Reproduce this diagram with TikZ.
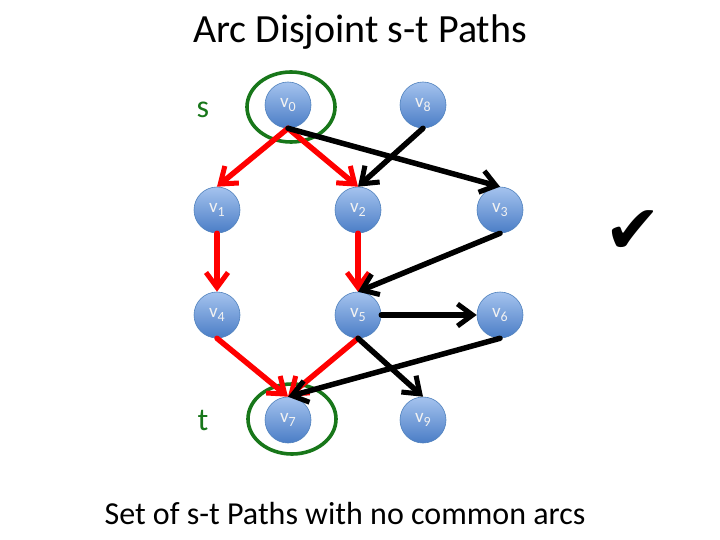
\documentclass[tikz,border=0pt]{standalone}
\usepackage{fontspec}
\setmainfont{Carlito}
\newfontfamily\tickfont{DejaVu Sans}
\usetikzlibrary{arrows.meta, shapes.geometric}

\definecolor{nodetop}{HTML}{A5C3EE}
\definecolor{nodebot}{HTML}{4A7DC6}
\definecolor{nodeline}{HTML}{4F81BD}
\definecolor{ringgreen}{HTML}{18771A}
\definecolor{vtext}{HTML}{F2F2F2}

\newcommand{\vlab}[1]{v\raisebox{-4pt}{\fontsize{14}{14}\selectfont #1}}

\begin{document}
\begin{tikzpicture}[
  x=1pt, y=-1pt,
  vertex/.style={
    circle, minimum size=46pt, inner sep=0pt,
    draw=nodeline, line width=0.6pt,
    top color=nodetop, bottom color=nodebot,
    text=vtext, font=\fontsize{19}{19}\selectfont
  },
  ring/.style={
    ellipse, draw=ringgreen, line width=3.6pt,
    minimum width=88pt, minimum height=70pt, inner sep=0pt
  },
  redarc/.style={
    -{Straight Barb[length=15pt, width=22pt, line width=5pt]},
    line width=5.5pt, draw=red, line cap=round
  },
  blackarc/.style={
    -{Straight Barb[length=15pt, width=22pt, line width=5pt]},
    line width=5.5pt, draw=black, line cap=round
  },
  endlbl/.style={text=ringgreen, font=\fontsize{32}{32}\selectfont}
]
  \fill[white] (0,0) rectangle (720,540);
  \useasboundingbox (0,0) rectangle (720,540);

  \node[font=\fontsize{40}{40}\selectfont] (title) at (360,32) {Arc Disjoint s-t Paths};

  \node[vertex] (v0) at (288,105) {\vlab{0}};
  \node[vertex] (v8) at (423,105) {\vlab{8}};
  \node[vertex] (v1) at (217,210) {\vlab{1}};
  \node[vertex] (v2) at (358,210) {\vlab{2}};
  \node[vertex] (v3) at (500,210) {\vlab{3}};
  \node[vertex] (v4) at (217,315) {\vlab{4}};
  \node[vertex] (v5) at (358,315) {\vlab{5}};
  \node[vertex] (v6) at (500,315) {\vlab{6}};
  \node[vertex] (v7) at (288,420) {\vlab{7}};
  \node[vertex] (v9) at (423,420) {\vlab{9}};

  \node[ring] (ring0) at (291,107) {};
  \node[ring] (ring7) at (292,419) {};

  \node[endlbl] (s) at (203,110) {s};
  \node[endlbl] (t) at (203,420) {t};

  \draw[redarc] (v0.south) -- (v1.north);
  \draw[redarc] (v0.south) -- (v2.north);
  \draw[redarc] (v1.south) -- (v4.north);
  \draw[redarc] (v2.south) -- (v5.north);
  \draw[redarc] (v4.south) -- (v7.north);
  \draw[redarc] (v5.south) -- (v7.north);

  \draw[blackarc] (v0.south) -- (v3.north);
  \draw[blackarc] (v8.south) -- (v2.north);
  \draw[blackarc] (v3.south) -- (v5.north);
  \draw[blackarc] (v5.east) -- (v6.west);
  \draw[blackarc] (v6.south) -- (v7.north);
  \draw[blackarc] (v5.south) -- (v9.north);

  \node[font=\tickfont\fontsize{68}{68}\selectfont] (tick) at (633,232) {✔};

  \node[font=\fontsize{32}{32}\selectfont] (caption) at (345,514) {Set of s-t Paths with no common arcs};
\end{tikzpicture}
\end{document}
